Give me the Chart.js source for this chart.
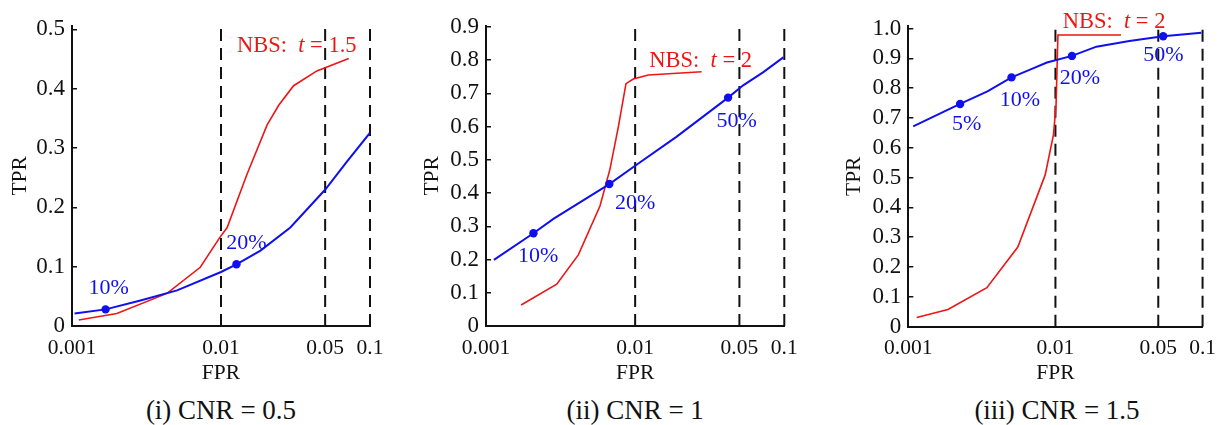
<!DOCTYPE html>
<html><head><meta charset="utf-8">
<script src="https://cdn.jsdelivr.net/npm/chart.js@4/dist/chart.umd.min.js"></script>
<style>
html,body{margin:0;padding:0;background:#fff;}
body{width:1225px;height:425px;overflow:hidden;position:relative;font-family:"Liberation Serif","Times New Roman",serif;}
.panel{position:absolute;top:0;}
.cap{position:absolute;font-size:27px;line-height:27px;text-align:center;white-space:nowrap;color:#111;width:400px;}
</style></head><body>
<div class="panel" id="w1"><canvas id="c1"></canvas></div>
<div class="panel" id="w2"><canvas id="c2"></canvas></div>
<div class="panel" id="w3"><canvas id="c3"></canvas></div>
<div class="cap" id="cap1">(i) CNR = 0.5</div>
<div class="cap" id="cap2">(ii) CNR = 1</div>
<div class="cap" id="cap3">(iii) CNR = 1.5</div>
<script>
// ---------- shared axis data ----------
const xTicks = [0.001, 0.01, 0.05, 0.1];
const xTickLabels = ['0.001', '0.01', '0.05', '0.1'];
const thresholds = [0.01, 0.05, 0.1];
const xTitle = 'FPR';
const yTitle = 'TPR';

// ---------- panel (i) CNR = 0.5 ----------
const p1Caption = '(i) CNR = 0.5';
const p1YTicks = [0, 0.1, 0.2, 0.3, 0.4, 0.5];
const p1YTickLabels = ['0', '0.1', '0.2', '0.3', '0.4', '0.5'];
const p1RedFPR = [0.00111, 0.0020, 0.00434, 0.00726, 0.0098, 0.011, 0.0149, 0.0204, 0.0244, 0.0307, 0.044, 0.072];
const p1RedTPR = [0.010, 0.021, 0.055, 0.099, 0.149, 0.166, 0.255, 0.339, 0.372, 0.405, 0.430, 0.451];
const p1BlueFPR = [0.00104, 0.00168, 0.00288, 0.00507, 0.01, 0.0127, 0.0184, 0.0292, 0.0501, 0.070, 0.0995];
const p1BlueTPR = [0.021, 0.028, 0.043, 0.060, 0.091, 0.104, 0.127, 0.166, 0.230, 0.277, 0.325];
const p1MarkFPR = [0.00168, 0.0127];
const p1MarkTPR = [0.028, 0.104];
const p1MarkText = ['10%', '20%'];
const p1MarkTextFPR = [0.00176, 0.0148];
const p1MarkTextTPR = [0.063, 0.139];
const p1NbsT = '1.5';
const p1NbsFPR = 0.0128, p1NbsTPR = 0.472;

// ---------- panel (ii) CNR = 1 ----------
const p2Caption = '(ii) CNR = 1';
const p2YTicks = [0, 0.1, 0.2, 0.3, 0.4, 0.5, 0.6, 0.7, 0.8, 0.9];
const p2YTickLabels = ['0', '0.1', '0.2', '0.3', '0.4', '0.5', '0.6', '0.7', '0.8', '0.9'];
const p2RedFPR = [0.00172, 0.00298, 0.00416, 0.00581, 0.00678, 0.00771, 0.00868, 0.00972, 0.01225, 0.0279];
const p2RedTPR = [0.063, 0.126, 0.214, 0.361, 0.472, 0.598, 0.729, 0.743, 0.755, 0.765];
const p2BlueFPR = [0.00113, 0.00208, 0.00283, 0.00671, 0.01, 0.0189, 0.042, 0.053, 0.072, 0.0985];
const p2BlueTPR = [0.199, 0.279, 0.322, 0.427, 0.482, 0.569, 0.687, 0.724, 0.763, 0.808];
const p2MarkFPR = [0.00208, 0.00671, 0.042];
const p2MarkTPR = [0.279, 0.427, 0.687];
const p2MarkText = ['10%', '20%', '50%'];
const p2MarkTextFPR = [0.00224, 0.0100, 0.0479];
const p2MarkTextTPR = [0.211, 0.369, 0.615];
const p2NbsT = '2';
const p2NbsFPR = 0.01245, p2NbsTPR = 0.797;

// ---------- panel (iii) CNR = 1.5 ----------
const p3Caption = '(iii) CNR = 1.5';
const p3YTicks = [0, 0.1, 0.2, 0.3, 0.4, 0.5, 0.6, 0.7, 0.8, 0.9, 1.0];
const p3YTickLabels = ['0', '0.1', '0.2', '0.3', '0.4', '0.5', '0.6', '0.7', '0.8', '0.9', '1.0'];
const p3RedFPR = [0.00114, 0.00186, 0.00342, 0.00555, 0.00852, 0.0097, 0.0101, 0.0104, 0.0279];
const p3RedTPR = [0.031, 0.058, 0.131, 0.267, 0.509, 0.644, 0.744, 0.978, 0.978];
const p3BlueFPR = [0.00108, 0.00225, 0.00345, 0.00503, 0.00711, 0.00875, 0.01295, 0.019, 0.0318, 0.054, 0.098];
const p3BlueTPR = [0.672, 0.747, 0.789, 0.836, 0.867, 0.886, 0.908, 0.939, 0.958, 0.974, 0.986];
const p3MarkFPR = [0.00225, 0.00503, 0.01295, 0.054];
const p3MarkTPR = [0.747, 0.836, 0.908, 0.974];
const p3MarkText = ['5%', '10%', '20%', '50%'];
const p3MarkTextFPR = [0.00249, 0.00573, 0.01466, 0.0541];
const p3MarkTextTPR = [0.680, 0.761, 0.833, 0.911];
const p3NbsT = '2';
const p3NbsFPR = 0.0112, p3NbsTPR = 1.022;

// ---------- styling ----------
const FONT = '"Liberation Serif", "Times New Roman", serif';
const BLUE = '#1010ee';
const RED = '#ee1515';
const INK = '#111111';

const zip = (xs, ys) => xs.map((x, i) => ({x: x, y: ys[i]}));

const labelPlugin = {
  id: 'panelLabels',
  afterDatasetsDraw(chart) {
    const a = chart.options.plugins.panelLabels;
    const {ctx, scales: {x, y}} = chart;
    ctx.save();
    ctx.textBaseline = 'middle';
    ctx.font = '22px ' + FONT;
    ctx.fillStyle = BLUE;
    ctx.textAlign = 'center';
    a.text.forEach((t, i) => {
      ctx.fillText(t, x.getPixelForValue(a.fpr[i]), y.getPixelForValue(a.tpr[i]));
    });
    // NBS label
    ctx.fillStyle = RED;
    ctx.textAlign = 'left';
    let px = x.getPixelForValue(a.nbsFPR);
    const py = y.getPixelForValue(a.nbsTPR);
    const p1 = 'NBS:  ';
    ctx.font = '22.5px ' + FONT;
    ctx.fillText(p1, px, py); px += ctx.measureText(p1).width;
    ctx.font = 'italic 22.5px ' + FONT;
    ctx.fillText('t', px, py); px += ctx.measureText('t').width;
    ctx.font = '22.5px ' + FONT;
    ctx.fillText(' = ' + a.nbsT, px, py);
    ctx.restore();
  }
};

function buildPanel(id, wrapId, capId, g, d) {
  const wrap = document.getElementById(wrapId);
  wrap.style.left = g.left + 'px';
  wrap.style.width = g.width + 'px';
  wrap.style.height = g.height + 'px';
  const cap = document.getElementById(capId);
  cap.style.left = (g.left + g.yWidth + (g.width - g.yWidth - g.rightPad) / 2 - 200) + 'px';
  cap.style.top = g.capTop + 'px';

  const dashed = thresholds.map(t => ({
    data: [{x: t, y: 0}, {x: t, y: g.yMax}],
    borderColor: INK, borderWidth: 2, borderDash: [12, 7],
    pointRadius: 0, tension: 0, order: 3, clip: false
  }));
  const datasets = [
    ...dashed,
    {data: zip(d.redFPR, d.redTPR), borderColor: RED, borderWidth: 1.6, pointRadius: 0, tension: 0, order: 2},
    {data: zip(d.blueFPR, d.blueTPR), borderColor: BLUE, borderWidth: 2, pointRadius: 0, tension: 0, order: 1},
    {data: zip(d.markFPR, d.markTPR), showLine: false, pointRadius: 4.2, pointBackgroundColor: BLUE,
     pointBorderColor: BLUE, borderWidth: 0, order: 0}
  ];

  new Chart(document.getElementById(id), {
    type: 'line',
    data: {datasets},
    plugins: [labelPlugin],
    options: {
      responsive: true, maintainAspectRatio: false, animation: false,
      layout: {padding: {top: g.top, right: g.rightPad, left: 0, bottom: 0}},
      plugins: {
        legend: {display: false}, tooltip: {enabled: false},
        panelLabels: {text: d.markText, fpr: d.markTextFPR, tpr: d.markTextTPR,
                      nbsT: d.nbsT, nbsFPR: d.nbsFPR, nbsTPR: d.nbsTPR}
      },
      scales: {
        x: {
          type: 'logarithmic', min: 0.001, max: 0.1,
          afterBuildTicks: s => { s.ticks = xTicks.map(v => ({value: v})); },
          afterFit: s => { s.height = g.xHeight; },
          ticks: {callback: (v, i) => xTickLabels[i], autoSkip: false, maxRotation: 0, minRotation: 0,
                  padding: 9, color: INK, font: {family: FONT, size: 21.5}},
          grid: {display: true, drawOnChartArea: false, drawTicks: false},
          border: {display: true, color: INK, width: 2},
          title: {display: true, text: xTitle, color: INK, font: {family: FONT, size: 21.5},
                  padding: {top: 0, bottom: 4}}
        },
        y: {
          type: 'linear', min: 0, max: g.yMax,
          afterBuildTicks: s => { s.ticks = d.yTicks.map(v => ({value: v})); },
          afterFit: s => { s.width = g.yWidth; },
          ticks: {callback: (v, i) => d.yTickLabels[i], autoSkip: false, padding: 12, color: INK,
                  font: {family: FONT, size: 23}},
          grid: {display: true, drawOnChartArea: false, drawTicks: true, tickLength: -5,
                 color: INK, lineWidth: 1.5},
          border: {display: true, color: INK, width: 2},
          title: {display: true, text: yTitle, color: INK, font: {family: FONT, size: 21.5},
                  padding: {top: g.yTitlePad, bottom: 0}}
        }
      }
    }
  });
}

buildPanel('c1', 'w1', 'cap1',
  {left: 0, width: 405, height: 390, top: 23, rightPad: 35, yWidth: 72, xHeight: 64, yMax: 0.506, yTitlePad: 7, capTop: 397},
  {yTicks: p1YTicks, yTickLabels: p1YTickLabels, redFPR: p1RedFPR, redTPR: p1RedTPR,
   blueFPR: p1BlueFPR, blueTPR: p1BlueTPR, markFPR: p1MarkFPR, markTPR: p1MarkTPR,
   markText: p1MarkText, markTextFPR: p1MarkTextFPR, markTextTPR: p1MarkTextTPR,
   nbsT: p1NbsT, nbsFPR: p1NbsFPR, nbsTPR: p1NbsTPR});
buildPanel('c2', 'w2', 'cap2',
  {left: 410, width: 410, height: 390, top: 15, rightPad: 35.7, yWidth: 76, xHeight: 64, yMax: 0.903, yTitlePad: 9, capTop: 397},
  {yTicks: p2YTicks, yTickLabels: p2YTickLabels, redFPR: p2RedFPR, redTPR: p2RedTPR,
   blueFPR: p2BlueFPR, blueTPR: p2BlueTPR, markFPR: p2MarkFPR, markTPR: p2MarkTPR,
   markText: p2MarkText, markTextFPR: p2MarkTextFPR, markTextTPR: p2MarkTextTPR,
   nbsT: p2NbsT, nbsFPR: p2NbsFPR, nbsTPR: p2NbsTPR});
buildPanel('c3', 'w3', 'cap3',
  {left: 830, width: 395, height: 390, top: 24, rightPad: 19.3, yWidth: 78.3, xHeight: 63.3, yMax: 1.009, yTitlePad: 11.5, capTop: 397},
  {yTicks: p3YTicks, yTickLabels: p3YTickLabels, redFPR: p3RedFPR, redTPR: p3RedTPR,
   blueFPR: p3BlueFPR, blueTPR: p3BlueTPR, markFPR: p3MarkFPR, markTPR: p3MarkTPR,
   markText: p3MarkText, markTextFPR: p3MarkTextFPR, markTextTPR: p3MarkTextTPR,
   nbsT: p3NbsT, nbsFPR: p3NbsFPR, nbsTPR: p3NbsTPR});
</script>
</body></html>
